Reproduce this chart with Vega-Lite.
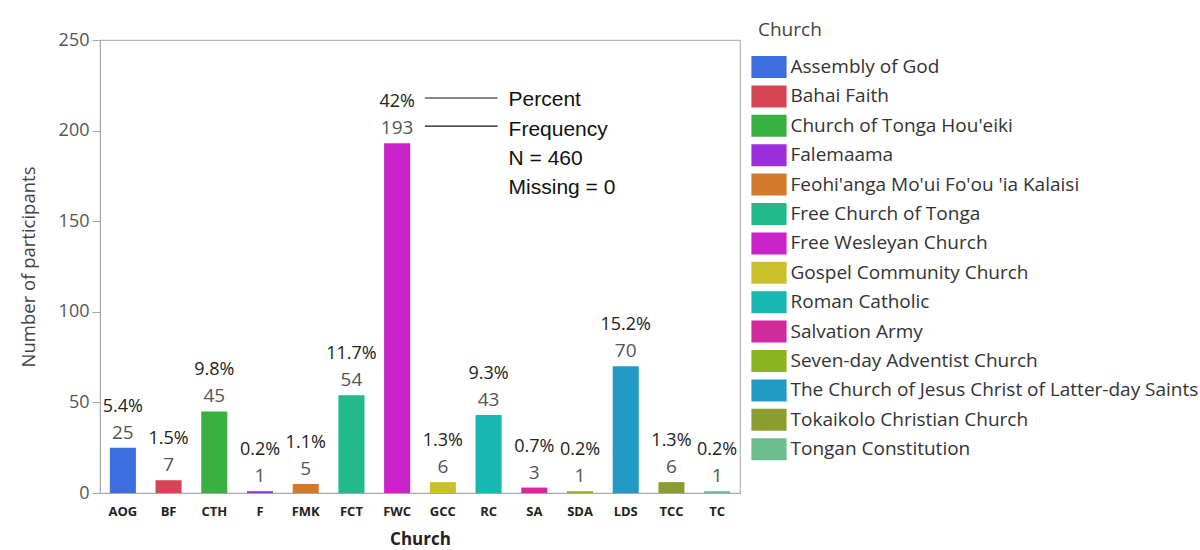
{
  "$schema": "https://vega.github.io/schema/vega-lite/v6.json",
  "width": 640,
  "height": 453,
  "autosize": "none",
  "padding": {"left": 100, "top": 40, "right": 460, "bottom": 57},
  "background": "white",
  "config": {
    "font": "Open Sans",
    "view": {"stroke": "#b4b4b4", "strokeWidth": 1.2},
    "axis": {"grid": false, "domainColor": "#a8a8a8", "tickColor": "#a8a8a8"}
  },
  "datasets": {
    "bars": [
      {"abbr": "AOG", "church": "Assembly of God", "n": 25, "pct": "5.4%"},
      {"abbr": "BF", "church": "Bahai Faith", "n": 7, "pct": "1.5%"},
      {"abbr": "CTH", "church": "Church of Tonga Hou'eiki", "n": 45, "pct": "9.8%"},
      {"abbr": "F", "church": "Falemaama", "n": 1, "pct": "0.2%"},
      {"abbr": "FMK", "church": "Feohi'anga Mo'ui Fo'ou 'ia Kalaisi", "n": 5, "pct": "1.1%"},
      {"abbr": "FCT", "church": "Free Church of Tonga", "n": 54, "pct": "11.7%"},
      {"abbr": "FWC", "church": "Free Wesleyan Church", "n": 193, "pct": "42%"},
      {"abbr": "GCC", "church": "Gospel Community Church", "n": 6, "pct": "1.3%"},
      {"abbr": "RC", "church": "Roman Catholic", "n": 43, "pct": "9.3%"},
      {"abbr": "SA", "church": "Salvation Army", "n": 3, "pct": "0.7%"},
      {"abbr": "SDA", "church": "Seven-day Adventist Church", "n": 1, "pct": "0.2%"},
      {"abbr": "LDS", "church": "The Church of Jesus Christ of Latter-day Saints", "n": 70, "pct": "15.2%"},
      {"abbr": "TCC", "church": "Tokaikolo Christian Church", "n": 6, "pct": "1.3%"},
      {"abbr": "TC", "church": "Tongan Constitution", "n": 1, "pct": "0.2%"}
    ],
    "notes": [
      {"label": "Percent", "y": 217},
      {"label": "Frequency", "y": 200.5},
      {"label": "N = 460", "y": 184.5},
      {"label": "Missing = 0", "y": 168.5}
    ],
    "leaders": [
      {"from": "GCC", "to": "RC", "y": 218},
      {"from": "GCC", "to": "RC", "y": 202.5}
    ]
  },
  "layer": [
    {
      "data": {"name": "bars"},
      "mark": {"type": "bar", "width": {"band": 0.57}},
      "encoding": {
        "x": {
          "field": "abbr", "type": "nominal", "sort": null, "title": "Church",
          "scale": {"paddingInner": 0, "paddingOuter": 0},
          "axis": {"labelAngle": 0, "ticks": false, "labelFontWeight": "bold", "labelFontSize": 13, "labelColor": "#222", "labelPadding": 12, "titleFontSize": 17, "titleFontWeight": "bold", "titleColor": "#222", "titlePadding": 13}
        },
        "y": {
          "field": "n", "type": "quantitative", "title": "Number of participants",
          "scale": {"domain": [0, 250], "nice": false},
          "axis": {"values": [0, 50, 100, 150, 200, 250], "tickSize": 8, "labelFontSize": 18, "labelColor": "#555", "labelPadding": 3, "titleFontSize": 18.5, "titleFontWeight": "normal", "titleColor": "#444", "titlePadding": 20}
        },
        "color": {
          "field": "church", "type": "nominal", "title": "Church",
          "scale": {
            "domain": ["Assembly of God", "Bahai Faith", "Church of Tonga Hou'eiki", "Falemaama", "Feohi'anga Mo'ui Fo'ou 'ia Kalaisi", "Free Church of Tonga", "Free Wesleyan Church", "Gospel Community Church", "Roman Catholic", "Salvation Army", "Seven-day Adventist Church", "The Church of Jesus Christ of Latter-day Saints", "Tokaikolo Christian Church", "Tongan Constitution"],
            "range": ["#3d6fdc", "#d64555", "#3bb042", "#9b2fd9", "#d2792a", "#21bb8b", "#c923c9", "#c9c02a", "#1ab6b1", "#d02a9c", "#8bb520", "#2399c5", "#8a9e30", "#6abf8d"]
          },
          "legend": {
            "orient": "none", "legendX": 658, "legendY": -19,
            "titleFontSize": 19, "titleFontWeight": "normal", "titleColor": "#444", "titlePadding": 16,
            "labelFontSize": 19, "labelColor": "#333", "labelLimit": 700, "labelOffset": 10.5,
            "symbolType": "M-1.6,-1H1.6V1H-1.6Z", "symbolSize": 484, "symbolStrokeWidth": 0, "symbolOpacity": 1,
            "rowPadding": 7.4
          }
        }
      }
    },
    {
      "data": {"name": "bars"},
      "mark": {"type": "text", "baseline": "middle", "dy": -15, "fontSize": 19, "color": "#555"},
      "encoding": {
        "x": {"field": "abbr", "type": "nominal", "sort": null},
        "y": {"field": "n", "type": "quantitative"},
        "text": {"field": "n"}
      }
    },
    {
      "data": {"name": "bars"},
      "mark": {"type": "text", "baseline": "middle", "dy": -41, "fontSize": 18, "color": "#222"},
      "encoding": {
        "x": {"field": "abbr", "type": "nominal", "sort": null},
        "y": {"field": "n", "type": "quantitative"},
        "text": {"field": "pct"}
      }
    },
    {
      "data": {"name": "leaders"},
      "mark": {"type": "rule", "color": "#111", "strokeWidth": 1.2, "xOffset": -18, "x2Offset": 9},
      "encoding": {
        "x": {"field": "from", "type": "nominal", "sort": null},
        "x2": {"field": "to"},
        "y": {"field": "y", "type": "quantitative"}
      }
    },
    {
      "data": {"name": "notes"},
      "mark": {"type": "text", "align": "left", "baseline": "middle", "dx": 20, "fontSize": 21, "font": "Liberation Sans", "color": "#111"},
      "encoding": {
        "x": {"datum": "RC", "type": "nominal"},
        "y": {"field": "y", "type": "quantitative"},
        "text": {"field": "label"}
      }
    }
  ]
}
